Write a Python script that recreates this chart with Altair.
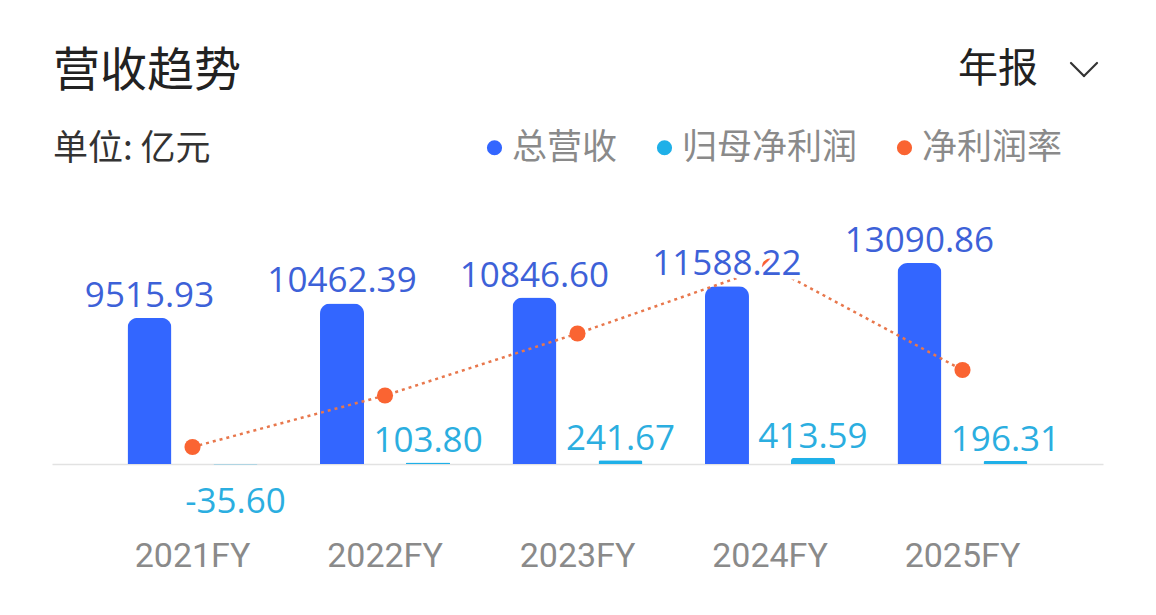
import altair as alt
import pandas as pd

# ---- data ----
years = ["2021FY", "2022FY", "2023FY", "2024FY", "2025FY"]
revenue = [9515.93, 10462.39, 10846.60, 11588.22, 13090.86]       # 总营收 (亿元)
net_profit = [-35.60, 103.80, 241.67, 413.59, 196.31]             # 归母净利润 (亿元)
net_margin = [-0.04, 0.99, 2.23, 3.57, 1.50]                      # 净利润率 (%) estimated
series_names = ["总营收", "归母净利润", "净利润率"]
series_colors = ["#3366FF", "#1FB0E8", "#FA6432"]
label_colors = ["#3D61D8", "#2BAEE0"]

CJK = "Noto Sans CJK SC"
NUM = "Open Sans"

bars_df = pd.DataFrame({
    "year": years * 2,
    "series": [series_names[0]] * len(years) + [series_names[1]] * len(years),
    "value": revenue + net_profit,
})
bars_df["label"] = bars_df["value"].map(lambda v: f"{v:.2f}")
margin_df = pd.DataFrame({"year": years, "series": series_names[2], "margin": net_margin})

x_enc = alt.X(
    "year:N", sort=years,
    scale=alt.Scale(paddingInner=0, paddingOuter=0.23),
    axis=alt.Axis(title=None, ticks=False, domain=True, domainColor="#E2E2E2",
                  domainWidth=1.5, grid=False, labelAngle=0, labelFont="Roboto",
                  labelFontSize=34, labelColor="#8A8A8A", labelPadding=75),
)
xoff = alt.XOffset("series:N", sort=series_names[:2],
                   scale=alt.Scale(domain=series_names[:2], paddingInner=0, paddingOuter=0.119))
y_val = alt.Y("value:Q", scale=alt.Scale(domain=[0, 17200], nice=False, zero=True), axis=None)
y_margin = alt.Y("margin:Q", scale=alt.Scale(domain=[-0.38, 4.9], nice=False, zero=False), axis=None)
color_enc = alt.Color(
    "series:N",
    scale=alt.Scale(domain=series_names, range=series_colors),
    legend=alt.Legend(title=None, orient="none", legendX=425, legendY=-70,
                      direction="horizontal", symbolType="circle", symbolSize=230,
                      symbolStrokeWidth=0, symbolOpacity=1, labelFont=CJK,
                      labelFontSize=35, labelColor="#8A8A8A", labelOffset=0,
                      labelLimit=0, columnPadding=29, padding=0),
)

bars = alt.Chart(bars_df).mark_bar(
    width=44, cornerRadiusTopLeft=10, cornerRadiusTopRight=10
).encode(x=x_enc, xOffset=xoff, y=y_val, color=color_enc)

line = alt.Chart(margin_df).mark_line(
    strokeDash=[3, 4], strokeWidth=2.5, color="#E8774C"
).encode(x=x_enc, y=y_margin)

points = alt.Chart(margin_df).mark_circle(size=260, opacity=1).encode(
    x=x_enc, y=y_margin, color=color_enc
)

rev_base = alt.Chart(bars_df).transform_filter(alt.datum.series == series_names[0])
rev_halo = rev_base.mark_text(font=NUM, fontSize=35, baseline="alphabetic", dy=-11,
                              color="white", stroke="white", strokeWidth=9).encode(
    x=x_enc, xOffset=xoff, y=y_val, text="label:N")
rev_labels = rev_base.mark_text(font=NUM, fontSize=35, baseline="alphabetic", dy=-11,
                                color=label_colors[0]).encode(
    x=x_enc, xOffset=xoff, y=y_val, text="label:N")

prof_pos = alt.Chart(bars_df).transform_filter(
    (alt.datum.series == series_names[1]) & (alt.datum.value >= 0)
).mark_text(font=NUM, fontSize=35, baseline="alphabetic", dy=-10,
            color=label_colors[1]).encode(x=x_enc, xOffset=xoff, y=y_val, text="label:N")
prof_neg = alt.Chart(bars_df).transform_filter(
    (alt.datum.series == series_names[1]) & (alt.datum.value < 0)
).mark_text(font=NUM, fontSize=35, baseline="alphabetic", dy=48,
            color=label_colors[1]).encode(x=x_enc, xOffset=xoff, y=y_val, text="label:N")

title_df = pd.DataFrame({"t": ["营收趋势"]})
title_txt = alt.Chart(title_df).mark_text(
    font=CJK, fontSize=47, fontWeight="normal", color="#222222", align="left", baseline="middle"
).encode(text="t:N", x=alt.value(1), y=alt.value(-128))

period_df = pd.DataFrame({"t": ["年报"]})
period_txt = alt.Chart(period_df).mark_text(
    font=CJK, fontSize=40, color="#222222", align="right", baseline="middle"
).encode(text="t:N", x=alt.value(986), y=alt.value(-130))

unit_df = pd.DataFrame({"t": ["单位: 亿元"]})
unit_txt = alt.Chart(unit_df).mark_text(
    font=CJK, fontSize=35, color="#333333", align="left", baseline="middle"
).encode(text="t:N", x=alt.value(1), y=alt.value(-51))

chev1 = alt.Chart(title_df).mark_rule(stroke="#333333", strokeWidth=2.2, strokeCap="round").encode(
    x=alt.value(1019), x2=alt.value(1032), y=alt.value(-137), y2=alt.value(-124))
chev2 = alt.Chart(title_df).mark_rule(stroke="#333333", strokeWidth=2.2, strokeCap="round").encode(
    x=alt.value(1032), x2=alt.value(1045), y=alt.value(-124), y2=alt.value(-137))

chart = alt.layer(
    bars, line, points, rev_halo, rev_labels, prof_pos, prof_neg,
    title_txt, period_txt, unit_txt, chev1, chev2
).resolve_scale(y="independent").properties(
    width=1051, height=264,
    padding={"left": 44, "top": 192, "right": 45, "bottom": 143},
    autosize=alt.AutoSizeParams(type="none"),
).configure_view(stroke=None)

chart.save("out.html", embed_options={"renderer": "svg", "actions": False})
